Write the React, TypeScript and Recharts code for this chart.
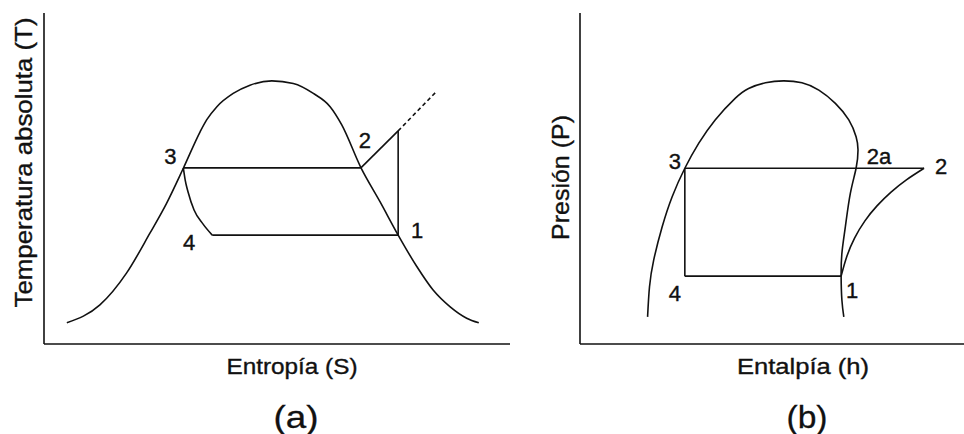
import React from "react";
import { LineChart, Line, XAxis, YAxis, ReferenceDot } from "recharts";

// Panel (a): T-s diagram, both axes on a 0-100 scale
const domeA = [
  { x: 4.9, y: 6.4 }, { x: 12.0, y: 11.8 }, { x: 17.7, y: 21.4 }, { x: 22.7, y: 33.4 },
  { x: 26.3, y: 42.5 }, { x: 29.9, y: 53.1 }, { x: 33.5, y: 64.1 }, { x: 34.9, y: 67.7 },
  { x: 37.1, y: 71.7 }, { x: 40.6, y: 75.7 }, { x: 44.2, y: 78.2 }, { x: 48.9, y: 79.5 },
  { x: 53.5, y: 78.7 }, { x: 57.8, y: 75.7 }, { x: 61.4, y: 71.7 }, { x: 63.9, y: 66.2 },
  { x: 68.0, y: 53.3 }, { x: 72.1, y: 43.0 }, { x: 76.0, y: 32.9 }, { x: 80.0, y: 23.4 },
  { x: 83.5, y: 16.3 }, { x: 87.1, y: 11.3 }, { x: 90.7, y: 7.8 }, { x: 93.3, y: 6.4 },
];
const condenseA = [{ x: 29.9, y: 53.2 }, { x: 68.0, y: 53.2 }];
const superheatA = [{ x: 68.0, y: 53.2 }, { x: 76.0, y: 64.4 }];
const extensionA = [{ x: 76.0, y: 64.4 }, { x: 84.3, y: 76.4 }];
const compressA = [{ x: 76.0, y: 64.4 }, { x: 76.0, y: 32.9 }];
const evaporateA = [{ x: 36.1, y: 32.9 }, { x: 76.0, y: 32.9 }];
const throttleA = [
  { x: 29.9, y: 53.2 }, { x: 30.3, y: 49.5 }, { x: 30.9, y: 46.0 },
  { x: 32.2, y: 40.5 }, { x: 34.1, y: 36.3 }, { x: 36.1, y: 32.9 },
];
const pointsA = [
  { name: "1", x: 76.0, y: 32.9, dx: 19, dy: -5 },
  { name: "2", x: 68.0, y: 53.2, dx: 4, dy: -27 },
  { name: "3", x: 29.9, y: 53.2, dx: -13, dy: -11 },
  { name: "4", x: 36.1, y: 32.9, dx: -23, dy: 7 },
];

// Panel (b): P-h diagram
const domeB = [
  { x: 17.6, y: 8.2 }, { x: 18.1, y: 17.3 }, { x: 19.2, y: 25.4 }, { x: 21.4, y: 35.4 },
  { x: 24.0, y: 44.5 }, { x: 27.3, y: 53.1 }, { x: 30.9, y: 60.6 }, { x: 35.2, y: 67.7 },
  { x: 40.4, y: 74.2 }, { x: 43.9, y: 77.2 }, { x: 48.3, y: 78.9 }, { x: 53.0, y: 79.5 },
  { x: 57.8, y: 78.9 }, { x: 62.2, y: 76.7 }, { x: 66.5, y: 72.7 }, { x: 70.0, y: 67.7 },
  { x: 71.9, y: 62.6 }, { x: 72.4, y: 58.6 }, { x: 71.9, y: 53.1 }, { x: 70.4, y: 45.5 },
  { x: 69.1, y: 35.4 }, { x: 68.2, y: 27.4 }, { x: 68.0, y: 20.5 }, { x: 68.2, y: 13.3 },
  { x: 68.7, y: 8.2 },
];
const condenseB = [{ x: 27.3, y: 53.1 }, { x: 89.6, y: 53.1 }];
const expandB = [{ x: 27.3, y: 53.1 }, { x: 27.3, y: 20.5 }];
const evaporateB = [{ x: 27.3, y: 20.5 }, { x: 68.0, y: 20.5 }];
const compressB = [
  { x: 68.0, y: 20.5 }, { x: 69.5, y: 26.5 }, { x: 71.5, y: 32.0 }, { x: 74.2, y: 37.2 },
  { x: 77.4, y: 41.8 }, { x: 81.0, y: 45.9 }, { x: 85.0, y: 49.6 }, { x: 89.6, y: 53.1 },
];
const pointsB = [
  { name: "1", x: 68.0, y: 20.5, dx: 11, dy: 14 },
  { name: "2", x: 89.6, y: 53.1, dx: 17, dy: -2 },
  { name: "2a", x: 71.9, y: 53.1, dx: 23, dy: -12 },
  { name: "3", x: 27.3, y: 53.1, dx: -10, dy: -7 },
  { name: "4", x: 27.3, y: 20.5, dx: -10, dy: 17 },
];

const FONT = "'Liberation Sans', Arial, sans-serif";
const INK = "#111";

function lineProps(data: { x: number; y: number }[], type: any = "linear") {
  return {
    data,
    dataKey: "y",
    type,
    stroke: INK,
    strokeWidth: 1.6,
    dot: false,
    activeDot: false,
    isAnimationActive: false,
  };
}

function PointLabel({ viewBox, text, dx, dy }: any) {
  return (
    <text x={viewBox.x + dx} y={viewBox.y + dy} textAnchor="middle" dominantBaseline="central"
      fontFamily={FONT} fontSize={22} fill={INK} stroke={INK} strokeWidth={0.4}>
      {text}
    </text>
  );
}

function BottomTitle({ viewBox, title, titleLen, caption, captionLen, dx }: any) {
  const cx = viewBox.x + viewBox.width / 2 + dx;
  return (
    <g fontFamily={FONT} fill={INK} stroke={INK} textAnchor="middle">
      <text x={cx} y={viewBox.y + 30} fontSize={22} strokeWidth={0.35} textLength={titleLen}
        lengthAdjust="spacingAndGlyphs">
        {title}
      </text>
      <text x={cx + 4} y={viewBox.y + 84} fontSize={32} strokeWidth={0.3} textLength={captionLen}
        lengthAdjust="spacingAndGlyphs">
        {caption}
      </text>
    </g>
  );
}

function SideTitle({ viewBox, title, len, dx, dy }: any) {
  const x = viewBox.x + viewBox.width + dx;
  const y = viewBox.y + viewBox.height / 2 + dy;
  return (
    <text x={x} y={y} transform={`rotate(-90, ${x}, ${y})`} textAnchor="middle" fontFamily={FONT}
      fontSize={24} fill={INK} stroke={INK} strokeWidth={0.35} textLength={len} lengthAdjust="spacingAndGlyphs">
      {title}
    </text>
  );
}

const axisLine = { stroke: INK, strokeWidth: 1.6 };

export default function App() {
  return (
    <div style={{ position: "absolute", left: 0, top: 0, width: 964, height: 434, background: "#fff" }}>
      <div style={{ position: "absolute", left: 0, top: 0 }}>
        <LineChart width={520} height={434} margin={{ top: 13, right: 10, bottom: 89, left: 43 }}>
          <XAxis type="number" dataKey="x" domain={[0, 100]} height={1} tick={false} tickLine={false}
            axisLine={axisLine}
            label={{ content: (p: any) => <BottomTitle {...p} title="Entropía (S)" titleLen={131} caption="(a)" captionLen={45} dx={15} /> }} />
          <YAxis type="number" dataKey="y" domain={[0, 100]} width={1} tick={false} tickLine={false} axisLine={axisLine}
            label={{ content: (p: any) => <SideTitle {...p} title="Temperatura absoluta (T)" len={290} dx={-12} dy={-16} /> }} />
          <Line {...lineProps(domeA, "monotone")} />
          <Line {...lineProps(condenseA)} />
          <Line {...lineProps(superheatA)} />
          <Line {...lineProps(extensionA)} strokeDasharray="4 3" />
          <Line {...lineProps(compressA)} />
          <Line {...lineProps(evaporateA)} />
          <Line {...lineProps(throttleA, "monotone")} />
          {pointsA.map((p) => (
            <ReferenceDot key={p.name} x={p.x} y={p.y} r={0} fill="none" stroke="none"
              label={{ content: (lp: any) => <PointLabel {...lp} text={p.name} dx={p.dx} dy={p.dy} /> }} />
          ))}
        </LineChart>
      </div>
      <div style={{ position: "absolute", left: 520, top: 0 }}>
        <LineChart width={444} height={434} margin={{ top: 13, right: 0, bottom: 89, left: 59 }}>
          <XAxis type="number" dataKey="x" domain={[0, 100]} height={1} tick={false} tickLine={false}
            axisLine={axisLine}
            label={{ content: (p: any) => <BottomTitle {...p} title="Entalpía (h)" titleLen={132} caption="(b)" captionLen={41} dx={31} /> }} />
          <YAxis type="number" dataKey="y" domain={[0, 100]} width={1} tick={false} tickLine={false} axisLine={axisLine}
            label={{ content: (p: any) => <SideTitle {...p} title="Presión (P)" len={125} dx={-11} dy={-1} /> }} />
          <Line {...lineProps(domeB, "natural")} />
          <Line {...lineProps(condenseB)} />
          <Line {...lineProps(expandB)} />
          <Line {...lineProps(evaporateB)} />
          <Line {...lineProps(compressB, "natural")} />
          {pointsB.map((p) => (
            <ReferenceDot key={p.name} x={p.x} y={p.y} r={0} fill="none" stroke="none"
              label={{ content: (lp: any) => <PointLabel {...lp} text={p.name} dx={p.dx} dy={p.dy} /> }} />
          ))}
        </LineChart>
      </div>
    </div>
  );
}
